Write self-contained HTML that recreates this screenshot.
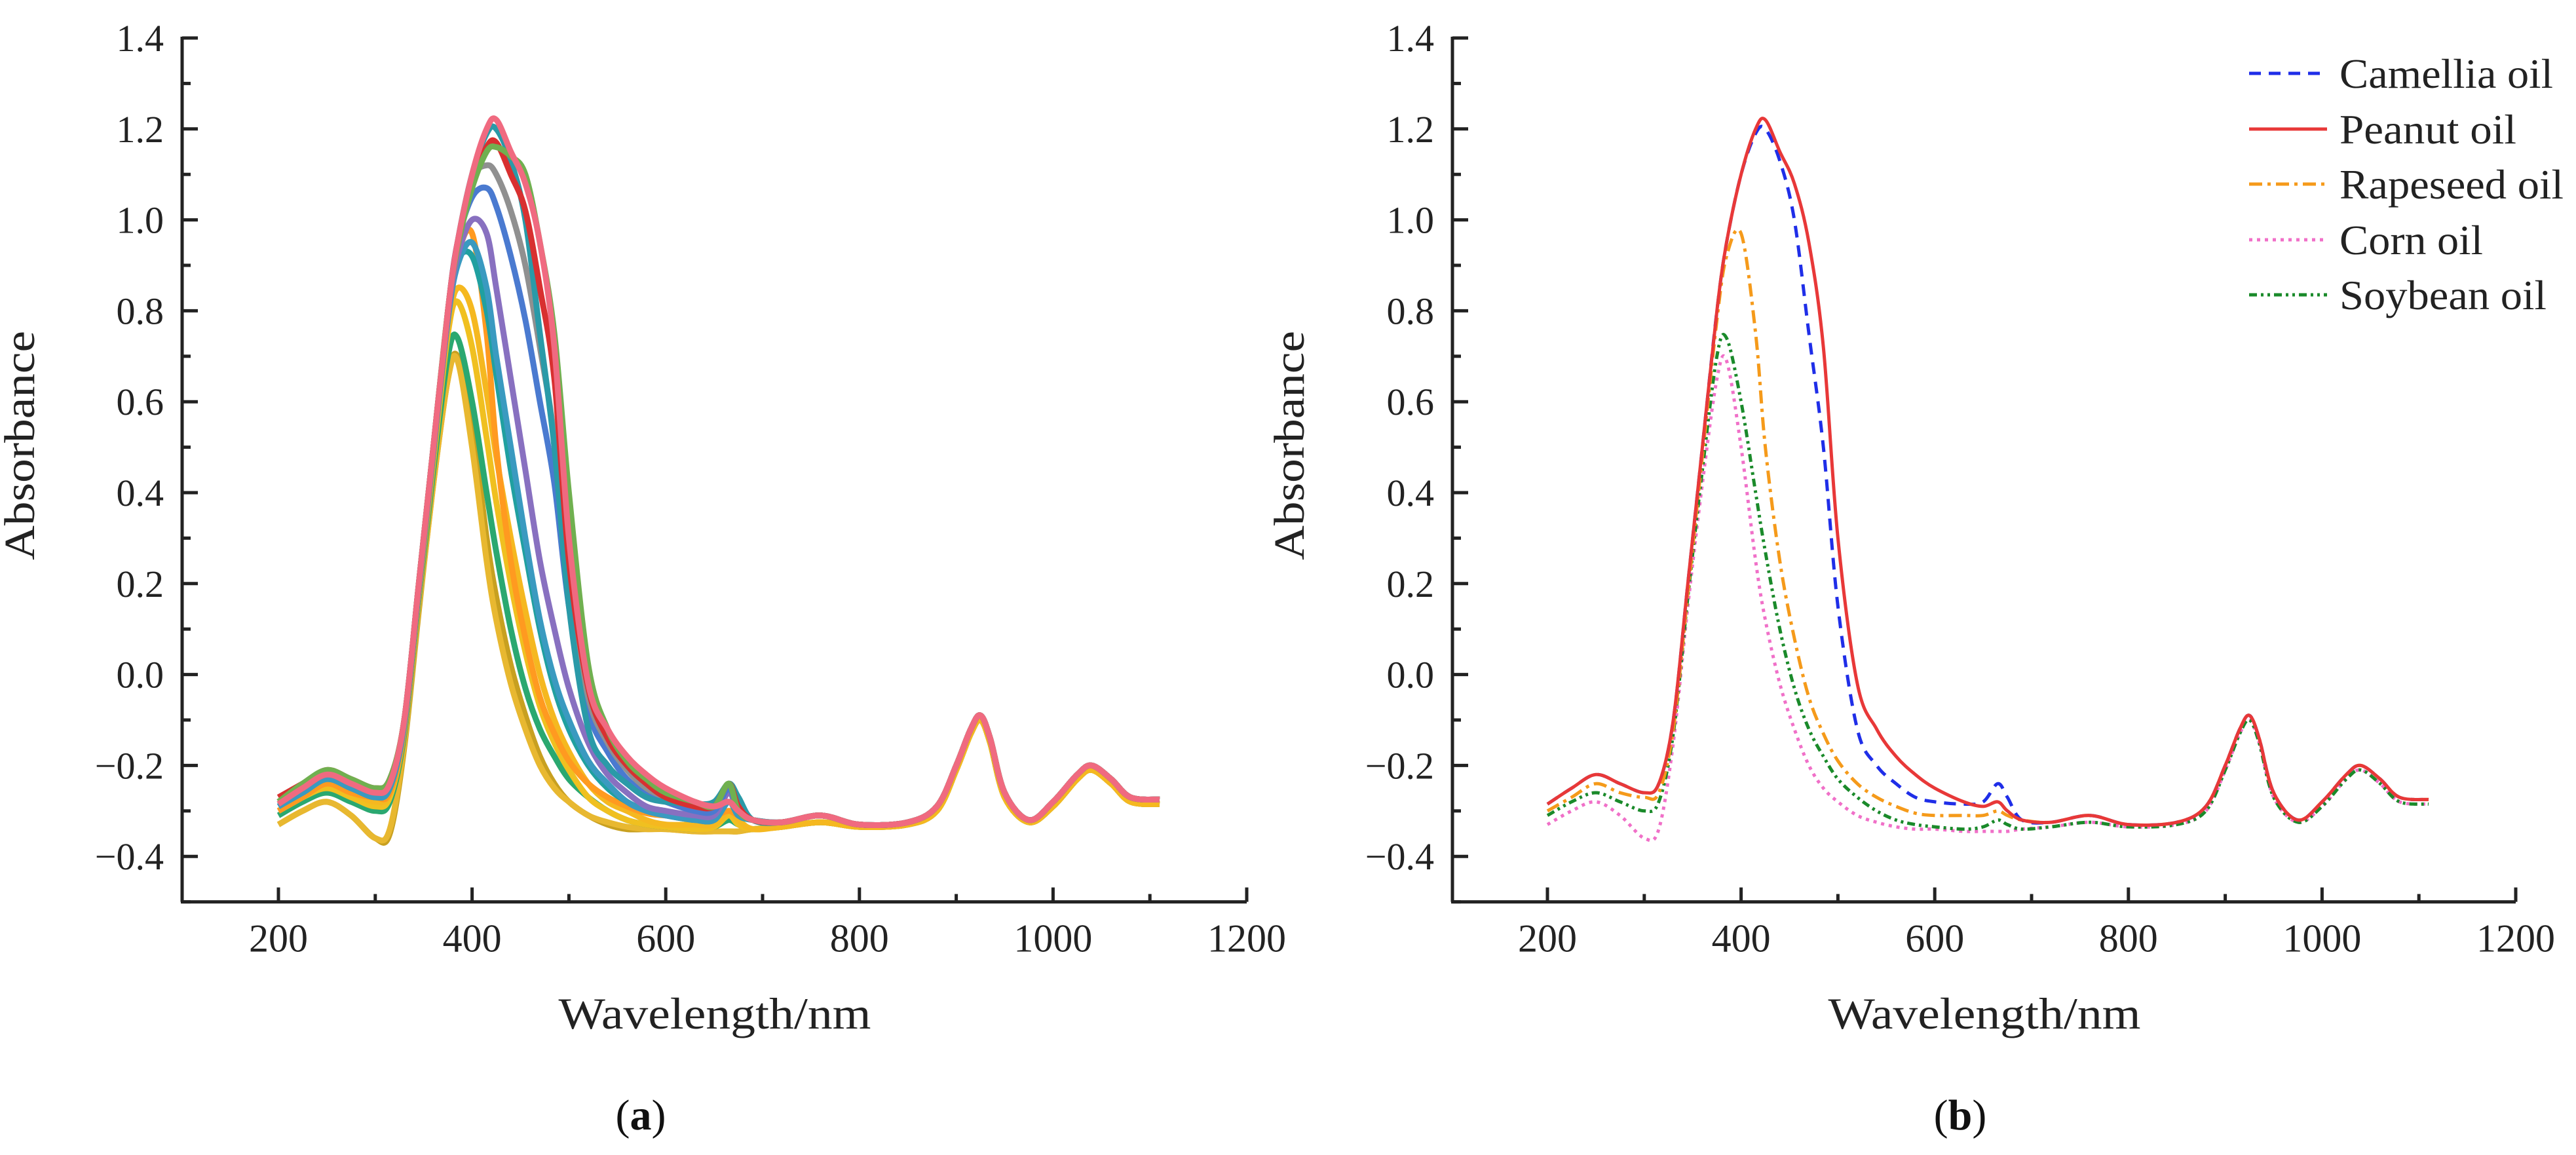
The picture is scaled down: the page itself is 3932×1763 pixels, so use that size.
<!DOCTYPE html>
<html><head><meta charset="utf-8"><style>
html,body{margin:0;padding:0;background:#fff;}
svg{display:block;}
svg text{font-family:"Liberation Serif","Times New Roman",serif;}
</style></head><body>
<svg id="fig" width="3932" height="1763" viewBox="0 0 3932 1763" xmlns="http://www.w3.org/2000/svg" font-family="Liberation Serif, serif">
<g id="panelA"></g>
<g id="panelB"></g>
</svg>
<script>
const wavelengths = [200,225,250,275,300,315,330,345,360,375,385,400,415,425,440,455,470,485,500,520,540,560,580,600,630,650,665,675,690,720,760,800,850,880,900,915,925,935,950,975,1000,1025,1040,1060,1080,1110];
const xTicks = [200,400,600,800,1000,1200];
const yTicks = [-0.4,-0.2,0.0,0.2,0.4,0.6,0.8,1.0,1.2,1.4];
const yTickLabels = ["\u22120.4","\u22120.2","0.0","0.2","0.4","0.6","0.8","1.0","1.2","1.4"];
const tailHigh = [-0.32,-0.325,-0.31,-0.33,-0.325,-0.29,-0.2,-0.12,-0.09,-0.14,-0.26,-0.32,-0.28,-0.22,-0.2,-0.23,-0.27,-0.275];
const tailLow = [-0.34,-0.335,-0.325,-0.335,-0.33,-0.3,-0.21,-0.13,-0.1,-0.15,-0.27,-0.325,-0.29,-0.23,-0.21,-0.24,-0.28,-0.285];
const camellia = [-0.285,-0.25,-0.22,-0.24,-0.26,-0.24,-0.1,0.2,0.5,0.8,0.95,1.1,1.19,1.2,1.13,1.0,0.75,0.5,0.15,-0.12,-0.2,-0.24,-0.27,-0.28,-0.285,-0.28,-0.24,-0.27].concat(tailHigh);
const peanut = [-0.285,-0.25,-0.22,-0.24,-0.26,-0.24,-0.1,0.2,0.5,0.8,0.95,1.1,1.2,1.22,1.15,1.08,0.95,0.72,0.3,-0.02,-0.12,-0.18,-0.22,-0.25,-0.28,-0.29,-0.28,-0.3].concat(tailHigh);
const rapeseed = [-0.3,-0.27,-0.24,-0.26,-0.27,-0.26,-0.12,0.18,0.48,0.78,0.92,0.97,0.75,0.5,0.25,0.08,-0.05,-0.13,-0.19,-0.24,-0.27,-0.29,-0.305,-0.31,-0.31,-0.31,-0.3,-0.31].concat(tailHigh);
const corn = [-0.33,-0.3,-0.28,-0.31,-0.36,-0.34,-0.15,0.15,0.42,0.65,0.69,0.5,0.25,0.12,-0.02,-0.12,-0.2,-0.25,-0.28,-0.31,-0.325,-0.335,-0.34,-0.34,-0.345,-0.345,-0.345,-0.345].concat(tailLow);
const soybean = [-0.31,-0.28,-0.26,-0.28,-0.3,-0.28,-0.13,0.17,0.45,0.7,0.74,0.6,0.4,0.27,0.1,-0.03,-0.12,-0.18,-0.23,-0.27,-0.3,-0.32,-0.33,-0.335,-0.34,-0.335,-0.32,-0.33].concat(tailLow);
const sampleL1 = [-0.27,-0.24,-0.21,-0.23,-0.25,-0.23,-0.1,0.2,0.5,0.8,0.95,1.08,1.16,1.17,1.1,1.02,0.85,0.65,0.25,-0.03,-0.14,-0.2,-0.24,-0.27,-0.29,-0.29,-0.24,-0.29].concat(tailHigh);
const sampleL2 = [-0.28,-0.25,-0.22,-0.24,-0.26,-0.24,-0.1,0.2,0.5,0.8,0.95,1.05,1.07,1.03,0.92,0.78,0.6,0.42,0.15,-0.08,-0.17,-0.23,-0.26,-0.28,-0.3,-0.3,-0.25,-0.3].concat(tailHigh);
const sampleL3 = [-0.29,-0.26,-0.23,-0.25,-0.27,-0.25,-0.11,0.19,0.49,0.78,0.9,0.95,0.85,0.7,0.5,0.3,0.12,-0.01,-0.1,-0.19,-0.24,-0.28,-0.3,-0.31,-0.32,-0.32,-0.28,-0.31].concat(tailHigh);
const sampleL4 = [-0.3,-0.27,-0.24,-0.26,-0.28,-0.26,-0.11,0.19,0.48,0.76,0.85,0.8,0.62,0.48,0.3,0.14,0.0,-0.1,-0.17,-0.24,-0.28,-0.3,-0.32,-0.33,-0.33,-0.33,-0.3,-0.32].concat(tailLow);
const sampleL5 = [-0.28,-0.24,-0.21,-0.23,-0.25,-0.23,-0.1,0.2,0.5,0.8,0.94,1.07,1.15,1.16,1.14,1.1,0.95,0.75,0.4,0.02,-0.12,-0.19,-0.23,-0.26,-0.28,-0.29,-0.24,-0.3].concat(tailHigh);
const sampleL6 = [-0.33,-0.3,-0.28,-0.31,-0.36,-0.35,-0.16,0.14,0.42,0.65,0.7,0.55,0.3,0.17,0.02,-0.09,-0.18,-0.24,-0.28,-0.31,-0.33,-0.34,-0.34,-0.34,-0.345,-0.345,-0.345,-0.345].concat(tailLow);
const sampleL7 = [-0.28,-0.25,-0.22,-0.24,-0.26,-0.24,-0.1,0.2,0.5,0.79,0.92,1.0,0.97,0.85,0.65,0.45,0.25,0.1,-0.03,-0.15,-0.22,-0.26,-0.29,-0.3,-0.31,-0.31,-0.26,-0.3].concat(tailHigh);
const sampleL8 = [-0.29,-0.26,-0.23,-0.25,-0.27,-0.25,-0.11,0.19,0.49,0.79,0.91,0.92,0.8,0.66,0.45,0.27,0.1,-0.03,-0.12,-0.2,-0.25,-0.28,-0.3,-0.31,-0.32,-0.32,-0.28,-0.31].concat(tailHigh);
const sampleL9 = [-0.28,-0.25,-0.22,-0.24,-0.26,-0.24,-0.1,0.2,0.5,0.8,0.95,1.09,1.12,1.1,1.02,0.9,0.72,0.52,0.2,-0.05,-0.15,-0.21,-0.25,-0.27,-0.29,-0.29,-0.24,-0.29].concat(tailHigh);
const sampleL10 = [-0.3,-0.27,-0.25,-0.27,-0.29,-0.27,-0.12,0.18,0.47,0.75,0.82,0.72,0.52,0.38,0.2,0.05,-0.07,-0.15,-0.21,-0.27,-0.3,-0.32,-0.33,-0.335,-0.34,-0.335,-0.31,-0.33].concat(tailLow);

const NS = "http://www.w3.org/2000/svg";
const FONT = "Liberation Serif, serif";
function mk(parent, tag, attrs, text) {
  const e = document.createElementNS(NS, tag);
  for (const k in attrs) e.setAttribute(k, attrs[k]);
  if (tag === "text") e.setAttribute("font-family", FONT);
  if (text !== undefined) e.textContent = text;
  parent.appendChild(e);
  return e;
}
function makeAxes(x0, px200, yTop) {
  const perX = 147.8, perY = 138.8 / 0.2;
  const xs = v => px200 + (v - 200) / 100 * perX;
  const ys = v => yTop + (1.4 - v) * perY;
  return {xs, ys, left: x0, bottom: ys(-0.5), right: xs(1200)};
}
function smoothPath(xa, ya, ax) {
  const p = xa.map((x, i) => [ax.xs(x), ax.ys(ya[i])]);
  let d = "M" + p[0][0].toFixed(1) + "," + p[0][1].toFixed(1);
  for (let i = 0; i < p.length - 1; i++) {
    const p0 = p[i - 1] || p[i], p1 = p[i], p2 = p[i + 1], p3 = p[i + 2] || p2;
    const c1 = [p1[0] + (p2[0] - p0[0]) / 6, p1[1] + (p2[1] - p0[1]) / 6];
    const c2 = [p2[0] - (p3[0] - p1[0]) / 6, p2[1] - (p3[1] - p1[1]) / 6];
    d += "C" + c1.map(v => v.toFixed(1)).join(",") + " " + c2.map(v => v.toFixed(1)).join(",") + " " + p2[0].toFixed(1) + "," + p2[1].toFixed(1);
  }
  return d;
}
function drawFrame(g, ax, labelX, titleX, panelLetter, panelX) {
  const axisG = mk(g, "g", {stroke: "#222", "stroke-width": 5, fill: "none"});
  
  
  mk(axisG, "line", {x1: ax.left, y1: ax.ys(1.4) - 2, x2: ax.left, y2: ax.bottom});
  mk(axisG, "line", {x1: ax.left - 2, y1: ax.bottom, x2: ax.right, y2: ax.bottom});
  yTicks.forEach((v, i) => {
    mk(axisG, "line", {x1: ax.left, y1: ax.ys(v), x2: ax.left + 24, y2: ax.ys(v)});
    if (i < yTicks.length - 1) mk(axisG, "line", {x1: ax.left, y1: ax.ys(v + 0.1), x2: ax.left + 13, y2: ax.ys(v + 0.1)});
    const t = mk(g, "text", {x: ax.left - 28, y: ax.ys(v) + 20, "text-anchor": "end", "font-size": 58, fill: "#222"}, yTickLabels[i]);
    
    
  });
  mk(axisG, "line", {x1: ax.left, y1: ax.ys(-0.5), x2: ax.left + 13, y2: ax.ys(-0.5)});
  xTicks.forEach(v => {
    mk(axisG, "line", {x1: ax.xs(v), y1: ax.bottom, x2: ax.xs(v), y2: ax.bottom - 22});
    if (v < 1200) mk(axisG, "line", {x1: ax.xs(v + 100), y1: ax.bottom, x2: ax.xs(v + 100), y2: ax.bottom - 12});
    const t = mk(g, "text", {x: ax.xs(v), y: ax.bottom + 76, "text-anchor": "middle", "font-size": 60, fill: "#222"}, String(v));
    
    
  });
  const yt = mk(g, "text", {x: 0, y: 0, transform: "translate(" + labelX + ",680) rotate(-90)", "text-anchor": "middle", "font-size": 66, fill: "#222", textLength: 350, lengthAdjust: "spacingAndGlyphs"}, "Absorbance");
  
  
  const xt = mk(g, "text", {x: titleX, y: 1570, "text-anchor": "middle", "font-size": 68, fill: "#222", textLength: 477, lengthAdjust: "spacingAndGlyphs"}, "Wavelength/nm");
  
  
  const pl = mk(g, "text", {x: panelX, y: 1724, "text-anchor": "middle", "font-size": 66, fill: "#111"});
  
  
  mk(pl, "tspan", {}, "(");
  mk(pl, "tspan", {"font-weight": "bold"}, panelLetter);
  mk(pl, "tspan", {}, ")");
}

// Panel A
const gA = document.getElementById("panelA");
const axA = makeAxes(278, 425, 58);
drawFrame(gA, axA, 52, 1091, "a", 978);
const leftSeries = [sampleL6, corn, soybean, sampleL10, sampleL4, rapeseed, sampleL8, sampleL3, sampleL7, sampleL2, sampleL9, camellia, sampleL1, sampleL5, peanut];
const leftColors = ["#c8a020","#e8b830","#2aa870","#f0c020","#f5b820","#ff9a20","#20a0a0","#3a9ac0","#8870c0","#4a7ad0","#909090","#2a9aa8","#d83030","#70b050","#f06a80"];
leftSeries.forEach((s, i) => {
  const p = mk(gA, "path", {d: smoothPath(wavelengths, s, axA), fill: "none", stroke: leftColors[i], "stroke-width": 9, "stroke-linejoin": "round"});
  
  
});

// Panel B
const gB = document.getElementById("panelB");
const axB = makeAxes(2217, 2362, 58);
drawFrame(gB, axB, 1990, 3029, "b", 2992);
const seriesNames = ["Camellia oil","Peanut oil","Rapeseed oil","Corn oil","Soybean oil"];
const seriesData = [camellia, peanut, rapeseed, corn, soybean];
const seriesColors = ["#1f2ee8","#e83838","#f59a1a","#f070c8","#1a8a2a"];
const seriesDash = ["18,12","none","20,8,5,8","5,7","12,6,4,6,4,6"];
const drawOrder = [3,4,2,0,1];
drawOrder.forEach(i => {
  const p = mk(gB, "path", {d: smoothPath(wavelengths, seriesData[i], axB), fill: "none", stroke: seriesColors[i], "stroke-width": 5, "stroke-dasharray": seriesDash[i]});
  
  
});
const legendY = [112,197,281,366,450];
const legendW = [326,270,342,219,316];
const legend = mk(gB, "g", {});


seriesNames.forEach((n, i) => {
  const e = mk(legend, "g", {});
  
  
  mk(e, "line", {x1: 3433, y1: legendY[i], x2: 3552, y2: legendY[i], stroke: seriesColors[i], "stroke-width": 5, "stroke-dasharray": seriesDash[i]});
  mk(e, "text", {x: 3571, y: legendY[i] + 22, "font-size": 64, fill: "#222", textLength: legendW[i], lengthAdjust: "spacingAndGlyphs"}, n);
});
</script>
</body></html>
